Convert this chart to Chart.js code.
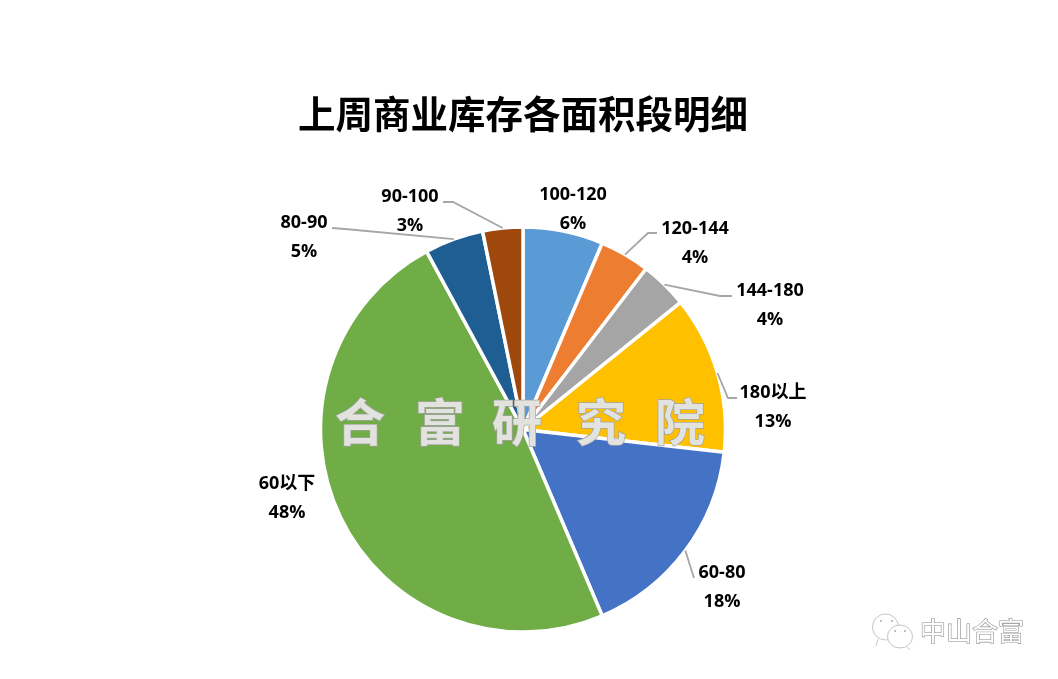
<!DOCTYPE html>
<html>
<head>
<meta charset="utf-8">
<title>上周商业库存各面积段明细</title>
<script src="https://cdn.jsdelivr.net/npm/chart.js@4"></script>
<style>
    html, body { margin: 0; padding: 0; background: #fff; }
    canvas { display: block; }
</style>
</head>
<body>
<canvas id="pieChart" width="1058" height="679"></canvas>
<script>
const categories = ['100-120', '120-144', '144-180', '180以上', '60-80', '60以下', '80-90', '90-100'];
const sliceValues = [6.4, 4.0, 3.8, 12.6, 16.8, 48.5, 4.7, 3.2];
const percentLabels = ['6%', '4%', '4%', '13%', '18%', '48%', '5%', '3%'];
const sliceColors = ['#5b9bd5', '#ed7d31', '#a5a5a5', '#ffc000', '#4472c4', '#70ad47', '#1f5e92', '#9e480e'];

const labelFont = '"Open Sans", "Noto Sans CJK SC", sans-serif';
const cjkFont = '"Noto Sans CJK SC", sans-serif';

// label centre, and the elbow of the leader line (null = no leader)
const labelSpots = [
    { x: 573, y: 195, elbow: null },
    { x: 695, y: 229, elbow: [[648, 233], [657, 233]] },
    { x: 770, y: 291, elbow: [[720, 296], [732, 296]] },
    { x: 773, y: 393, elbow: [[728, 398], [737, 398]] },
    { x: 722, y: 573, elbow: [[694, 578]] },
    { x: 287, y: 484, elbow: null },
    { x: 304, y: 223, elbow: [[345, 229], [332, 228]] },
    { x: 410, y: 197, elbow: [[453, 202], [443, 202]] }
];

const watermarkChars = ['合', '富', '研', '究', '院'];
const watermarkX = [360, 440, 517, 601, 680];

const sliceLabels = {
    id: 'sliceLabels',
    afterDatasetsDraw(chart) {
        const ctx = chart.ctx;
        const arcs = chart.getDatasetMeta(0).data;
        ctx.save();
        arcs.forEach((arc, i) => {
            const spot = labelSpots[i];
            if (spot.elbow) {
                const mid = (arc.startAngle + arc.endAngle) / 2;
                ctx.beginPath();
                ctx.moveTo(arc.x + Math.cos(mid) * arc.outerRadius, arc.y + Math.sin(mid) * arc.outerRadius);
                spot.elbow.forEach(p => ctx.lineTo(p[0], p[1]));
                ctx.strokeStyle = '#a6a6a6';
                ctx.lineWidth = 1.8;
                ctx.stroke();
            }
            ctx.fillStyle = '#000';
            ctx.font = 'bold 18px ' + labelFont;
            ctx.textAlign = 'center';
            ctx.textBaseline = 'middle';
            ctx.fillText(categories[i], spot.x, spot.y);
            ctx.fillText(percentLabels[i], spot.x, spot.y + 29);
        });
        ctx.restore();
    }
};

const watermarks = {
    id: 'watermarks',
    afterDraw(chart) {
        const ctx = chart.ctx;
        ctx.save();
        ctx.textAlign = 'center';
        ctx.textBaseline = 'middle';

        // big stamp over the pie
        ctx.font = 'bold 50px ' + cjkFont;
        watermarkChars.forEach((ch, i) => {
            ctx.lineWidth = 1.5;
            ctx.strokeStyle = '#a3a3a0';
            ctx.strokeText(ch, watermarkX[i], 422);
            ctx.fillStyle = '#e2e2de';
            ctx.fillText(ch, watermarkX[i], 422);
        });

        // two chat bubbles, bottom right
        ctx.strokeStyle = '#c4c4c4';
        ctx.lineWidth = 1;
        ctx.fillStyle = '#fff';
        [[885.5, 627, 13, 13, 878, 639, 876, 646], [900, 636.5, 12.5, 11.5, 907, 647, 910, 650]].forEach(b => {
            ctx.beginPath();
            ctx.ellipse(b[0], b[1], b[2], b[3], 0, 0, Math.PI * 2);
            ctx.fill();
            ctx.stroke();
            ctx.beginPath();
            ctx.moveTo(b[4], b[5]);
            ctx.lineTo(b[6], b[7]);
            ctx.stroke();
        });
        ctx.fillStyle = '#aaa';
        [[881, 621], [892, 621], [895, 631], [905, 631]].forEach(d => {
            ctx.beginPath();
            ctx.arc(d[0], d[1], 1, 0, Math.PI * 2);
            ctx.fill();
        });

        // account name
        ctx.font = '26px ' + cjkFont;
        ctx.lineWidth = 1.2;
        ctx.strokeStyle = '#8c8c8c';
        ctx.strokeText('中山合富', 972, 631);
        ctx.fillStyle = '#fff';
        ctx.fillText('中山合富', 972, 631);
        ctx.restore();
    }
};

new Chart(document.getElementById('pieChart'), {
    type: 'pie',
    data: {
        labels: categories,
        datasets: [{
            data: sliceValues,
            backgroundColor: sliceColors,
            borderColor: '#fff',
            borderWidth: 3.5,
            borderAlign: 'center',
            radius: 202.5
        }]
    },
    options: {
        responsive: false,
        animation: false,
        layout: { padding: { left: 0, right: 12, top: 0, bottom: 47 } },
        plugins: {
            legend: { display: false },
            tooltip: { enabled: false },
            title: {
                display: true,
                text: '上周商业库存各面积段明细',
                color: '#000',
                font: { family: cjkFont, size: 37.5, weight: 'bold', lineHeight: 1.2 },
                padding: { top: 91, bottom: 91 }
            }
        }
    },
    plugins: [sliceLabels, watermarks]
});
</script>
</body>
</html>
